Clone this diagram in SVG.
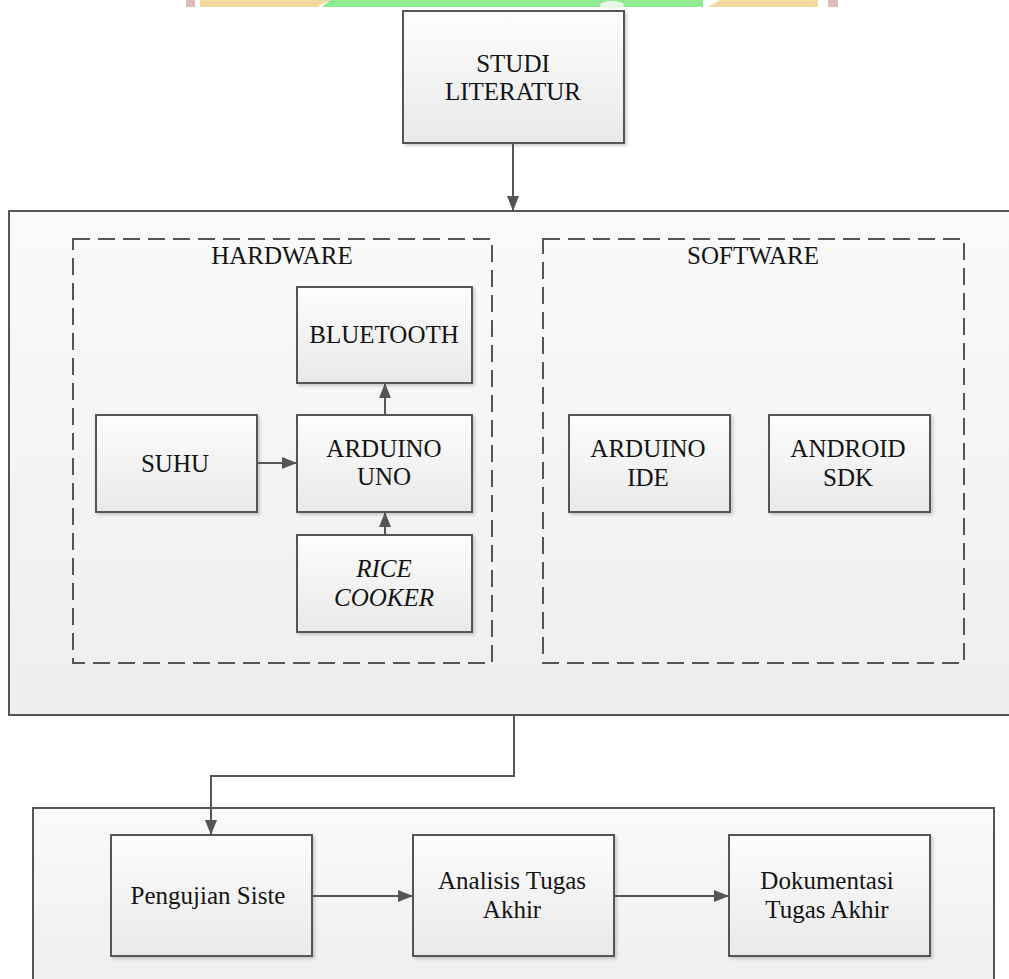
<svg xmlns="http://www.w3.org/2000/svg" width="1009" height="979" viewBox="0 0 1009 979">
<style>
.box{stroke:#555;stroke-width:2;fill:url(#gBox);filter:url(#sh)}
.cont{stroke:#555;stroke-width:2;fill:url(#gCont)}
.dash{stroke:#555;stroke-width:2;fill:none;stroke-dasharray:17 8}
.t{font-size:25px;fill:#141414;text-anchor:middle}
.it{font-style:italic}
.conn{stroke:#555;stroke-width:2;fill:none}
</style>
<defs>
<linearGradient id="gBox" x1="0" y1="0" x2="0" y2="1">
<stop offset="0" stop-color="#fdfdfd"/>
<stop offset="1" stop-color="#e9e9e9"/>
</linearGradient>
<linearGradient id="gCont" x1="0" y1="0" x2="0" y2="1">
<stop offset="0" stop-color="#fafafa"/>
<stop offset="1" stop-color="#eeeeee"/>
</linearGradient>
<filter id="sh" x="-5%" y="-5%" width="115%" height="115%">
<feDropShadow dx="2" dy="2" stdDeviation="1.5" flood-color="#000" flood-opacity="0.18"/>
</filter>
<marker id="ah" viewBox="0 0 15 12" refX="15" refY="6" markerWidth="15" markerHeight="12" markerUnits="userSpaceOnUse" orient="auto">
<path d="M0,0 L15,6 L0,12 z" fill="#555"/>
</marker>
</defs>
<rect width="1009" height="979" fill="#ffffff"/>
<g id="watermark">
<rect x="186" y="0" width="9" height="7" fill="#dcbcbc"/>
<polygon points="200,0 330,0 317,7 200,7" fill="#f2d9a0"/>
<polygon points="330,0 703,0 703,7 322,7" fill="#90ea90"/>
<ellipse cx="612" cy="5" rx="12" ry="4" fill="#e8f8e8"/>
<polygon points="720,0 818,0 818,7 708,7" fill="#f2d9a0"/>
<rect x="828" y="0" width="10" height="7" fill="#dcbcbc"/>
</g>
<g id="container-main">
<rect class="cont" x="9" y="211" width="1010" height="504"/>
</g>
<g id="container-bottom">
<rect class="cont" x="33" y="808" width="961" height="190"/>
</g>
<g font-family="Liberation Serif, Tinos, Times New Roman, DejaVu Serif, serif">
<g id="hardware">
<rect class="dash" x="73" y="239" width="419" height="424"/>
<text class="t" x="282" y="264">HARDWARE</text>
</g>
<g id="software">
<rect class="dash" x="543" y="239" width="421" height="424"/>
<text class="t" x="753" y="264">SOFTWARE</text>
</g>
<g id="studi-literatur">
<rect class="box" x="403" y="11" width="221" height="132"/>
<text class="t" x="513" y="72">STUDI</text>
<text class="t" x="513" y="100">LITERATUR</text>
</g>
<g id="bluetooth">
<rect class="box" x="297" y="287" width="175" height="96"/>
<text class="t" x="384" y="343">BLUETOOTH</text>
</g>
<g id="suhu">
<rect class="box" x="96" y="415" width="161" height="97"/>
<text class="t" x="175" y="472">SUHU</text>
</g>
<g id="arduino-uno">
<rect class="box" x="297" y="415" width="175" height="97"/>
<text class="t" x="384" y="457">ARDUINO</text>
<text class="t" x="384" y="485">UNO</text>
</g>
<g id="rice-cooker">
<rect class="box" x="297" y="535" width="175" height="97"/>
<text class="t it" x="384" y="577">RICE</text>
<text class="t it" x="384" y="606">COOKER</text>
</g>
<g id="arduino-ide">
<rect class="box" x="569" y="415" width="161" height="97"/>
<text class="t" x="648" y="457">ARDUINO</text>
<text class="t" x="648" y="486">IDE</text>
</g>
<g id="android-sdk">
<rect class="box" x="769" y="415" width="161" height="97"/>
<text class="t" x="848" y="457">ANDROID</text>
<text class="t" x="848" y="486">SDK</text>
</g>
<g id="pengujian-sistem">
<rect class="box" x="111" y="835" width="201" height="121"/>
<text class="t" x="208" y="904">Pengujian Siste</text>
</g>
<g id="analisis-tugas-akhir">
<rect class="box" x="413" y="835" width="201" height="121"/>
<text class="t" x="512" y="889">Analisis Tugas</text>
<text class="t" x="512" y="918">Akhir</text>
</g>
<g id="dokumentasi-tugas-akhir">
<rect class="box" x="729" y="835" width="201" height="121"/>
<text class="t" x="827" y="889">Dokumentasi</text>
<text class="t" x="827" y="918">Tugas Akhir</text>
</g>
</g>
<g id="connectors">
<line class="conn" x1="513" y1="143" x2="513" y2="211" marker-end="url(#ah)"/>
<line class="conn" x1="257" y1="463" x2="297" y2="463" marker-end="url(#ah)"/>
<line class="conn" x1="385" y1="415" x2="385" y2="383" marker-end="url(#ah)"/>
<line class="conn" x1="385" y1="535" x2="385" y2="512" marker-end="url(#ah)"/>
<polyline class="conn" points="514,715 514,776 211,776 211,835" marker-end="url(#ah)"/>
<line class="conn" x1="312" y1="896" x2="413" y2="896" marker-end="url(#ah)"/>
<line class="conn" x1="614" y1="896" x2="729" y2="896" marker-end="url(#ah)"/>
</g>
</svg>
